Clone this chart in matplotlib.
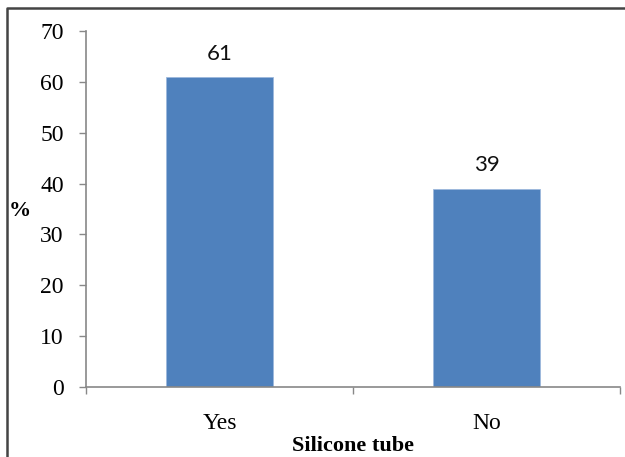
import numpy as np
import matplotlib.pyplot as plt
from matplotlib.lines import Line2D

categories = ["Yes", "No"]
values = [61, 39]
yticks = [0, 10, 20, 30, 40, 50, 60, 70]

plt.rcParams['font.family'] = ['Liberation Serif', 'DejaVu Serif']

fig = plt.figure(figsize=(6.25, 4.57), dpi=100)
ax = fig.add_axes([86 / 625, 1 - 387 / 457, 534 / 625, 356 / 457])

x = np.arange(len(categories))
ax.bar(x, values, width=0.40, color="#4F81BD", edgecolor="#9DB9DC", linewidth=0.6)

for xi, v in zip(x, values):
    ax.text(xi, v + 2.6, str(v), ha="center", va="bottom", fontsize=16,
            family=["Lato", "DejaVu Sans"], color="#111111")

ax.set_xlim(-0.5, len(categories) - 0.5)
ax.set_ylim(0, 70)
ax.set_yticks(yticks)
ax.set_xticks(x)
ax.set_xticklabels(categories, fontsize=17)
ax.set_xticks(np.arange(-0.5, len(categories)), minor=True)
ax.tick_params(axis="x", which="major", length=0, pad=19)
ax.tick_params(axis="x", which="minor", length=5, color="#888888", width=1)
ax.tick_params(axis="y", length=5, color="#888888", width=1, labelsize=17, pad=11)

for s in ["top", "right"]:
    ax.spines[s].set_visible(False)
for s in ["left", "bottom"]:
    ax.spines[s].set_color("#888888")
    ax.spines[s].set_linewidth(1.2)

ax.set_xlabel("Silicone tube", fontsize=16, fontweight="bold", labelpad=1)
fig.text(20 / 625, 1 - 211 / 457, "%", fontsize=16, fontweight="bold",
         ha="center", va="center")

# outer frame (left and top edges visible)
fig.add_artist(Line2D([7 / 625, 7 / 625, 1], [0, 1 - 8 / 457, 1 - 8 / 457],
                      transform=fig.transFigure, color="#444444", linewidth=1.8))

fig.savefig("out.png", dpi=100)
